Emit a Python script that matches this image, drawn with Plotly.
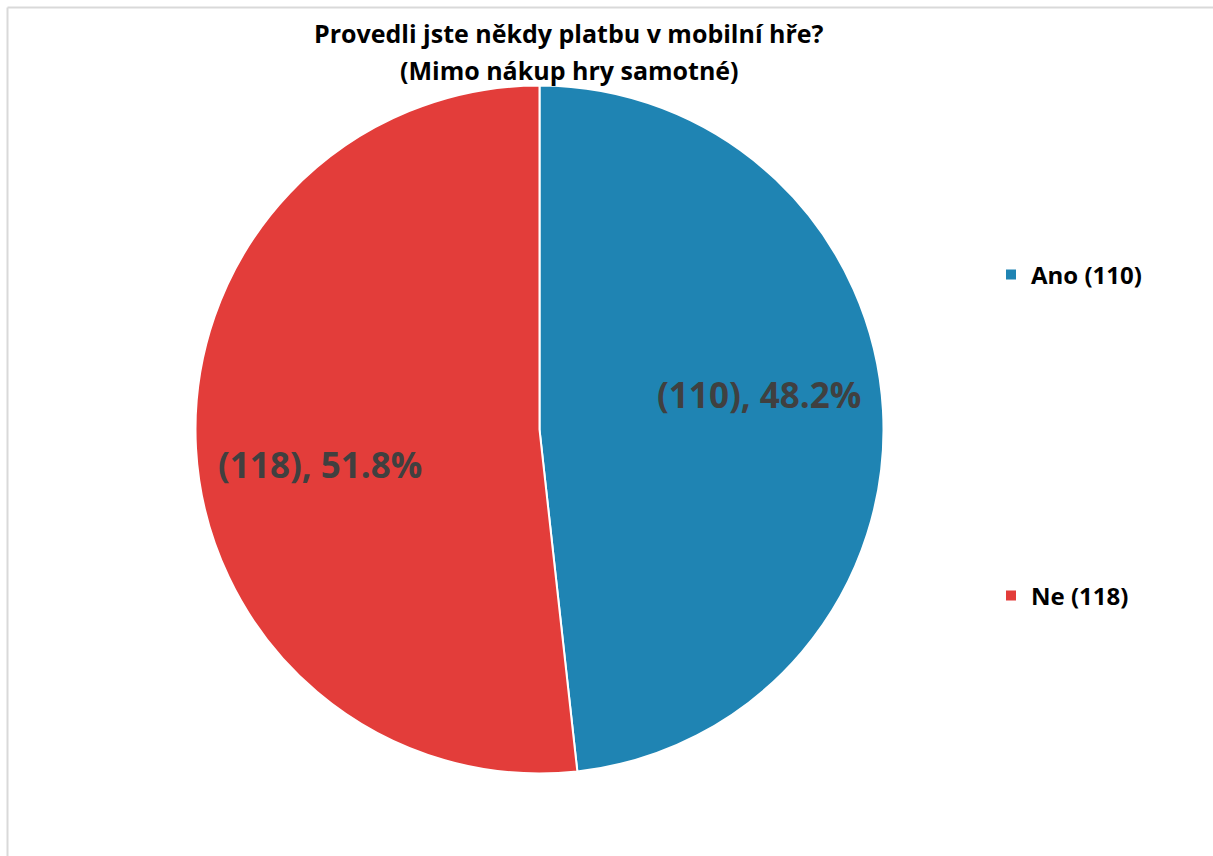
import math
import plotly.graph_objects as go

categories = ["Ano", "Ne"]
counts = [110, 118]
colors = ["#1F84B3", "#E33D3A"]
title_lines = ["Provedli jste někdy platbu v mobilní hře?", "(Mimo nákup hry samotné)"]

W, H = 1213, 856
FONT = "'Open Sans', sans-serif"

# pie geometry (pixels)
CX, CY, R = 539.5, 429.5, 344.0
LABEL_FRAC = 0.64
LABEL_NUDGE = 23  # extra vertical spread of labels away from the horizontal

total = sum(counts)
texts = [f"<b>({c}), {c / total * 100:.1f}%</b>" for c in counts]

fig = go.Figure()
fig.add_trace(go.Pie(
    labels=categories,
    values=counts,
    textinfo="none",
    sort=False,
    direction="clockwise",
    rotation=0,
    marker=dict(colors=colors, line=dict(color="white", width=2)),
    showlegend=False,
    domain=dict(x=[(CX - R) / W, (CX + R) / W], y=[1 - (CY + R) / H, 1 - (CY - R) / H]),
    hoverinfo="label+value+percent",
))

# data labels placed at each slice's mid-angle
annotations = []
cum = 0
for c, t in zip(counts, texts):
    mid = (cum + c / 2) / total * 2 * math.pi
    cum += c
    px = CX + LABEL_FRAC * R * math.sin(mid)
    py = CY - LABEL_FRAC * R * math.cos(mid) - LABEL_NUDGE * math.copysign(1, math.cos(mid))
    annotations.append(dict(
        x=px / W, y=1 - py / H, xref="paper", yref="paper",
        text=t, showarrow=False, xanchor="center", yanchor="middle",
        font=dict(family=FONT, size=35, color="#404040"),
    ))

# title (two lines)
for line, ypx in zip(title_lines, [33, 70]):
    annotations.append(dict(
        x=569 / W, y=1 - ypx / H, xref="paper", yref="paper",
        text=f"<b>{line}</b>",
        showarrow=False, xanchor="center", yanchor="middle", align="center",
        font=dict(family=FONT, size=25, color="#000000"),
    ))

# legend entries (dummy square markers)
for i, (cat, cnt, col) in enumerate(zip(categories, counts, colors)):
    fig.add_trace(go.Scatter(
        x=[None], y=[None], mode="markers",
        marker=dict(symbol="square", size=10, color=col),
        name=f"<b>{cat} ({cnt})</b>",
        legend="legend" if i == 0 else "legend2",
    ))

legend_common = dict(
    font=dict(family=FONT, size=24, color="#000000"),
    bgcolor="rgba(0,0,0,0)",
    xanchor="left", yanchor="middle",
    itemwidth=30,
)

fig.update_layout(
    width=W, height=H,
    margin=dict(l=0, r=0, t=0, b=0),
    paper_bgcolor="white",
    plot_bgcolor="white",
    xaxis=dict(visible=False),
    yaxis=dict(visible=False),
    annotations=annotations,
    legend=dict(x=991 / W, y=1 - 275 / H, **legend_common),
    legend2=dict(x=991 / W, y=1 - 596 / H, **legend_common),
    shapes=[
        dict(type="line", xref="paper", yref="paper",
             x0=7.5 / W, x1=7.5 / W, y0=0, y1=1 - 7.5 / H,
             line=dict(color="#D9D9D9", width=2)),
        dict(type="line", xref="paper", yref="paper",
             x0=7.5 / W, x1=1, y0=1 - 7.5 / H, y1=1 - 7.5 / H,
             line=dict(color="#D9D9D9", width=2)),
    ],
)

fig.write_html("out.html")
